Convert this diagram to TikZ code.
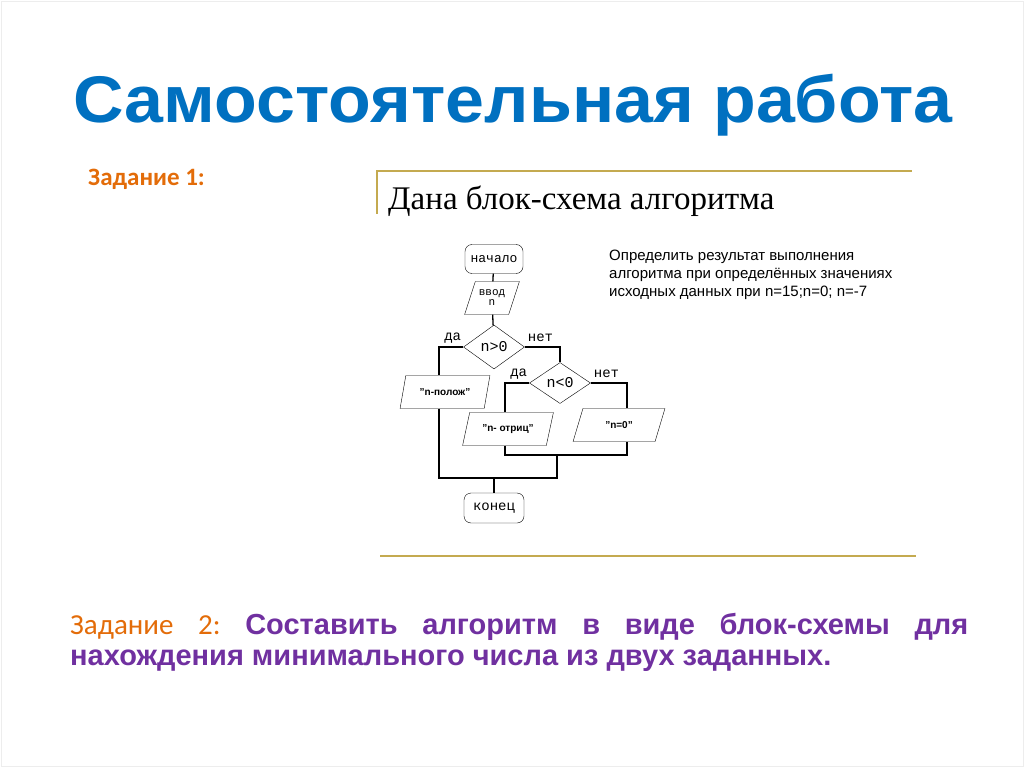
\documentclass[tikz,border=0pt]{standalone}
\usepackage{fontspec}
\setmainfont{Liberation Sans}
\newfontfamily\calfont{Carlito}
\newfontfamily\widefont{Liberation Sans}[FakeStretch=1.06]
\newfontfamily\garfont{Liberation Serif}
\newfontfamily\courfont{Liberation Mono}
\usetikzlibrary{shapes,positioning}
\definecolor{titleblue}{RGB}{0,112,192}
\definecolor{taskorange}{RGB}{227,108,9}
\definecolor{taskpurple}{RGB}{112,48,160}
\definecolor{rulegold}{RGB}{196,170,80}
\tikzstyle{term}=[draw,rounded corners=7pt,minimum width=58pt,minimum height=29pt,
                inner sep=0pt,font=\courfont\fontsize{13}{13}\selectfont]
\tikzstyle{io}=[draw,trapezium,trapezium left angle=62,trapezium right angle=118,
                trapezium stretches=true,minimum height=33pt,inner sep=0pt,
                font=\bfseries\fontsize{10}{10}\selectfont]
\tikzstyle{cond}=[draw,diamond,inner sep=0pt,font=\courfont\fontsize{15}{15}\selectfont]
\tikzstyle{yesno}=[inner sep=1pt,font=\courfont\fontsize{14}{14}\selectfont]
\tikzstyle{link}=[line width=1.3pt]
\tikzstyle{rule}=[draw=rulegold,line width=2pt]

\begin{document}
\begin{tikzpicture}[x=1pt,y=-1pt]
\useasboundingbox (0,0) rectangle (1024,767);
\draw[black!7] (1,1) rectangle (1023,766);
\node[anchor=base,text=titleblue,font=\widefont\bfseries\fontsize{66}{66}\selectfont] (title)
  at (513,123) {Самостоятельная работа};
\node[anchor=base west,text=taskorange,font=\calfont\bfseries\fontsize{25}{25}\selectfont,inner sep=0pt] (task1)
  at (88,186) {Задание 1:};
% scanned slide
\draw[rule] (377,214) -- (377,171) -- (912,171);
\draw[rule] (380,556) -- (916,556);
\node[anchor=base west,font=\garfont\fontsize{33}{33}\selectfont,inner sep=0pt] (head)
  at (388,210) {Дана блок-схема алгоритма};
\node[anchor=base west,font=\fontsize{15}{15}\selectfont,inner sep=0pt] (q1)
  at (609,260) {Определить результат выполнения};
\node[anchor=base west,font=\fontsize{15}{15}\selectfont,inner sep=0pt] (q2)
  at (609,278) {алгоритма при определённых значениях};
\node[anchor=base west,font=\fontsize{15}{15}\selectfont,inner sep=0pt] (q3)
  at (609,296) {исходных данных при n=15;n=0; n=-7};

\node[term] (start) at (494,259) {начало};
\node[io,minimum width=55pt,font=\courfont\fontsize{11}{10}\selectfont,align=center] (in)
  at (492,298) {ввод\\n};
\node[cond,minimum width=61pt,minimum height=44pt] (c1) at (494,347) {n>0};
\node[cond,minimum width=61pt,minimum height=41pt] (c2) at (560,383) {n<0};
\node[io,minimum width=90pt] (pos) at (445,392) {"n-полож"};
\node[io,minimum width=91pt] (neg) at (508,429) {"n- отриц"};
\node[io,minimum width=92pt] (zero) at (619,425) {"n=0"};
\node[term,minimum width=60pt,minimum height=30pt,font=\courfont\fontsize{14}{14}\selectfont] (end)
  at (494,508) {конец};

\node[yesno,anchor=south east] (y1) at ([xshift=-1pt,yshift=3pt]c1.west) {да};
\node[yesno,anchor=south west] (n1) at ([xshift=2pt,yshift=4pt]c1.east) {нет};
\node[yesno,anchor=south east] (y2) at ([xshift=-1pt,yshift=3pt]c2.west) {да};
\node[yesno,anchor=south west] (n2) at ([xshift=2pt,yshift=4pt]c2.east) {нет};

\coordinate (l1) at (439,347);
\coordinate (jl) at (439,478);
\coordinate (jr) at (557,478);
\coordinate (ml) at (505,455);
\coordinate (mr) at (627,455);

\draw[link] (start) -- (in);
\draw[link] (in) -- (c1);
\draw[link] (c1.west) -- (l1) -- (l1 |- pos.north);
\draw[link] (c1.east) -| (c2.north);
\draw[link] (c2.west) -| (ml |- neg.north);
\draw[link] (c2.east) -| (mr |- zero.north);
\draw[link] (ml |- neg.south) -- (ml) -- (mr) -- (mr |- zero.south);
\draw[link] (jl |- pos.south) -- (jl) -- (jr) -- (jr |- ml);
\draw[link] (end.north |- jl) -- (end.north);

\node[anchor=base west,inner sep=0pt,font=\fontsize{29}{29}\selectfont] (task2)
  at (70,634) {\makebox[898pt][l]{\textcolor{taskorange}{\calfont Задание\hfill 2:}\hfill
  \textcolor{taskpurple}{\bfseries Составить\hfill алгоритм\hfill в\hfill виде\hfill блок-схемы\hfill для}}};
\node[anchor=base west,inner sep=0pt,text=taskpurple,font=\bfseries\fontsize{29}{29}\selectfont] (task2b)
  at (70,665) {нахождения минимального числа из двух заданных.};
\end{tikzpicture}
\end{document}
